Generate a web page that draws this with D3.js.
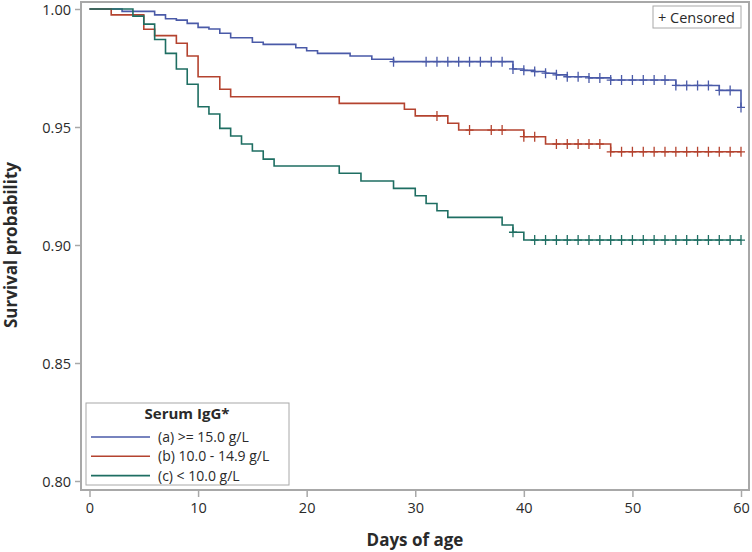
<!DOCTYPE html>
<html>
<head>
<meta charset="utf-8">
<script src="https://cdn.jsdelivr.net/npm/d3@7"></script>
<style>
  html, body { margin: 0; padding: 0; background: #fff; }
  svg text { font-family: "Open Sans", "Noto Sans", sans-serif; fill: #2a2a2a; }
</style>
</head>
<body>
<svg id="chart" width="752" height="552"></svg>
<script>
// ---- data ----
const groupLabels = ["(a) >= 15.0 g/L", "(b) 10.0 - 14.9 g/L", "(c) < 10.0 g/L"];
const groupColors = ["#4a5aa8", "#b4432f", "#1e6e62"];

const timesA = [0, 3, 6, 7, 8, 9, 10, 11, 12, 13, 15, 16, 19, 20, 21, 24, 26, 28, 39, 40, 41, 42, 43, 44, 46, 48, 54, 58, 60];
const survA  = [1, 0.999, 0.9975, 0.9959, 0.9953, 0.9939, 0.9922, 0.9915, 0.9897, 0.9878, 0.9859, 0.985, 0.9836, 0.9823, 0.9812, 0.9801, 0.9787, 0.9777, 0.9746, 0.974, 0.9735, 0.9728, 0.9721, 0.9713, 0.9708, 0.9699, 0.9676, 0.9655, 0.9583];
const censorA = [28, 31, 32, 33, 34, 35, 36, 37, 38, 39, 40, 41, 42, 43, 44, 45, 46, 47, 48, 49, 50, 51, 52, 53, 54, 55, 56, 57, 58, 59, 60];

const timesB = [0, 2, 5, 6, 8, 9, 10, 12, 13, 23, 29, 30, 33, 34, 40, 42, 48];
const survB  = [1, 0.9975, 0.9914, 0.9887, 0.9855, 0.9801, 0.9713, 0.966, 0.9628, 0.96, 0.9575, 0.9547, 0.9516, 0.9487, 0.9459, 0.9428, 0.9395];
const censorB = [32, 35, 37, 38, 40, 41, 43, 44, 45, 46, 47, 48, 49, 50, 51, 52, 53, 54, 55, 56, 57, 58, 59, 60];

const timesC = [0, 4, 5, 6, 7, 8, 9, 10, 11, 12, 13, 14, 15, 16, 17, 23, 25, 28, 30, 31, 32, 33, 38, 39, 40];
const survC  = [1, 0.997, 0.9936, 0.9871, 0.9812, 0.9746, 0.9681, 0.9586, 0.9555, 0.9494, 0.9462, 0.9428, 0.9398, 0.9364, 0.9335, 0.9304, 0.9271, 0.924, 0.9209, 0.9176, 0.9145, 0.9117, 0.9085, 0.9054, 0.9021];
const censorC = [39, 41, 42, 43, 44, 45, 46, 47, 48, 49, 50, 51, 52, 53, 54, 55, 56, 57, 58, 59, 60];

const xTicks = [0, 10, 20, 30, 40, 50, 60];
const yTicks = [0.80, 0.85, 0.90, 0.95, 1.00];
const xTitle = "Days of age";
const yTitle = "Survival probability";
const legendTitle = "Serum IgG*";
const censorLabel = "Censored";

// ---- layout ----
const svg = d3.select("#chart");
const frame = {left: 81, right: 749, top: 2, bottom: 490};
const x = d3.scaleLinear().domain([0, 60]).range([89.5, 741]);
const y = d3.scaleLinear().domain([0.80, 1.00]).range([481, 9]);

const groups = [
  {t: timesA, s: survA, c: censorA},
  {t: timesB, s: survB, c: censorB},
  {t: timesC, s: survC, c: censorC}
];

// frame
svg.append("rect")
  .attr("x", frame.left).attr("y", frame.top)
  .attr("width", frame.right - frame.left).attr("height", frame.bottom - frame.top)
  .attr("fill", "none").attr("stroke", "#a8a8a8").attr("stroke-width", 2);

// axes
const yAxis = d3.axisLeft(y).tickValues(yTicks).tickFormat(d3.format(".2f")).tickSize(6).tickPadding(4);
const gy = svg.append("g").attr("transform", `translate(${frame.left},0)`).call(yAxis);
const xAxis = d3.axisBottom(x).tickValues(xTicks).tickFormat(d3.format("d")).tickSize(7).tickPadding(6);
const gx = svg.append("g").attr("transform", `translate(0,${frame.bottom})`).call(xAxis);
[gx, gy].forEach(g => {
  g.select(".domain").remove();
  g.selectAll(".tick line").attr("stroke", "#a8a8a8").attr("stroke-width", 1.5);
  g.selectAll(".tick text").attr("font-size", 14.5).style("fill", "#2a2a2a");
});
gy.selectAll(".tick text").attr("dy", "0.36em");

svg.append("text").attr("x", 415).attr("y", 546).attr("text-anchor", "middle")
  .attr("font-size", 17).attr("font-weight", "bold").text(xTitle);
svg.append("text").attr("transform", "translate(17,245) rotate(-90)").attr("text-anchor", "middle")
  .attr("font-size", 17).attr("font-weight", "bold").text(yTitle);

// curves
const line = d3.line().x(d => x(d[0])).y(d => y(d[1])).curve(d3.curveStepAfter);
function survAt(g, t) {
  let v = g.s[0];
  for (let i = 0; i < g.t.length; i++) if (g.t[i] <= t) v = g.s[i];
  return v;
}
groups.forEach((g, i) => {
  const pts = g.t.map((t, k) => [t, g.s[k]]);
  const tEnd = Math.max(d3.max(g.t), d3.max(g.c));
  pts.push([tEnd, g.s[g.s.length - 1]]);
  svg.append("path").datum(pts).attr("d", line)
    .attr("fill", "none").attr("stroke", groupColors[i]).attr("stroke-width", 1.6);
  svg.append("g").selectAll("path").data(g.c).join("path")
    .attr("d", t => {
      const cx = x(t), cy = y(survAt(g, t));
      return `M${cx - 4},${cy}H${cx + 4}M${cx},${cy - 5}V${cy + 5}`;
    })
    .attr("stroke", groupColors[i]).attr("stroke-width", 1.3).attr("fill", "none");
});

// censored legend
const cl = svg.append("g");
cl.append("rect").attr("x", 653).attr("y", 6).attr("width", 88).attr("height", 22)
  .attr("fill", "#fff").attr("stroke", "#a8a8a8").attr("stroke-width", 1);
cl.append("text").attr("x", 658).attr("y", 22.5).attr("font-size", 14.5).text("+ " + censorLabel);

// group legend
const lg = svg.append("g");
lg.append("rect").attr("x", 86).attr("y", 403).attr("width", 203).attr("height", 82)
  .attr("fill", "#fff").attr("stroke", "#a8a8a8").attr("stroke-width", 1);
lg.append("text").attr("x", 187).attr("y", 419).attr("text-anchor", "middle")
  .attr("font-size", 15).attr("font-weight", "bold").text(legendTitle);
groupLabels.forEach((lab, i) => {
  const yy = 437 + i * 19.3;
  lg.append("line").attr("x1", 91).attr("x2", 150).attr("y1", yy).attr("y2", yy)
    .attr("stroke", groupColors[i]).attr("stroke-width", 1.6);
  lg.append("text").attr("x", 158).attr("y", yy + 5).attr("font-size", 14).text(lab);
});
</script>
</body>
</html>
